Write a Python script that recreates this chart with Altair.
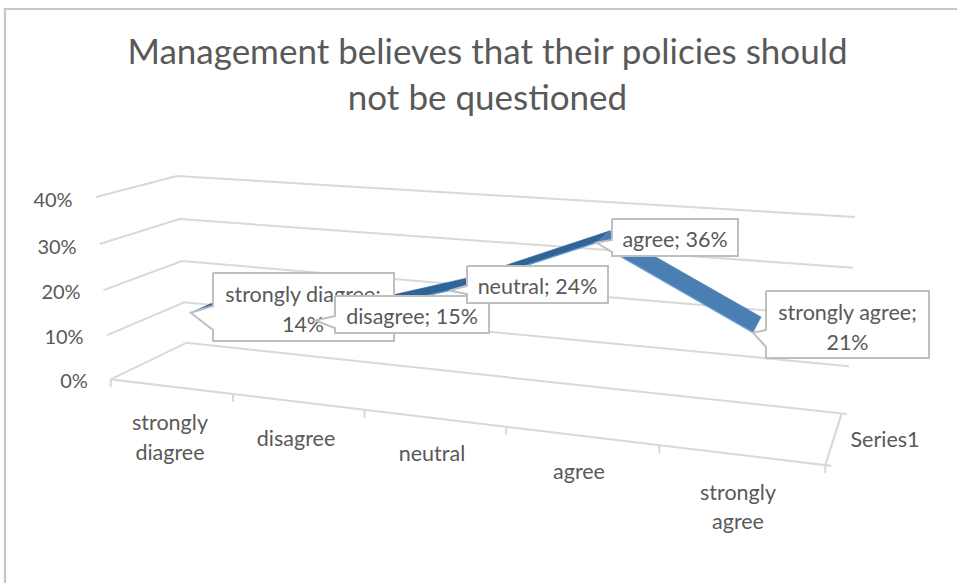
import altair as alt
import pandas as pd

# Survey responses
categories = ["strongly diagree", "disagree", "neutral", "agree", "strongly agree"]
values = [14, 15, 24, 36, 21]
grid_values = [0, 10, 20, 30, 40]
title_lines = ["Management believes that their policies should", "not be questioned"]
series_name = "Series1"

W, H = 957, 583
FONT = "Lato"
GREY = "#d9d9d9"
TEXT = "#595959"
BOX = "#bfbfbf"

# Corners of the 3D plot box on the page: (front/back, left/right) at 0% and at 40%
FLOOR = {"fl": (110.7, 379.3), "fr": (831, 465.8), "bl": (186.7, 342.7), "br": (847, 414)}
TOP = {"fl": (96, 197), "fr": (845, 250), "bl": (177, 176), "br": (855, 217)}
VMAX = 40
PERSPECTIVE = 1.21   # foreshortening along the category axis
RISE = 1.043         # foreshortening along the value axis
AXIS_END = 0.992     # the last category tick sits just short of the box corner
RIBBON_DEPTH = (1 / 3, 0.72)


def lerp(a, b, t):
    return (a[0] + (b[0] - a[0]) * t, a[1] + (b[1] - a[1]) * t)


def warp(u):
    return AXIS_END * u / (u + PERSPECTIVE * (1 - u))


def project(u, depth, value):
    """Page position of category fraction u (already warped), depth 0-1, value in %."""
    s = value / VMAX
    t = s / (s + RISE * (1 - s))
    front = lerp(lerp(FLOOR["fl"], FLOOR["fr"], u), lerp(TOP["fl"], TOP["fr"], u), t)
    back = lerp(lerp(FLOOR["bl"], FLOOR["br"], u), lerp(TOP["bl"], TOP["br"], u), t)
    return lerp(front, back, depth)


def centre(i):
    return warp((i + 0.5) / len(categories))


X = alt.X("x:Q", scale=alt.Scale(domain=[0, W], nice=False, zero=False), axis=None)
Y = alt.Y("y:Q", scale=alt.Scale(domain=[H, 0], nice=False, zero=False), axis=None)


def path(points, color, width=1.5, fill=None):
    df = pd.DataFrame([{"x": p[0], "y": p[1], "i": n} for n, p in enumerate(points)])
    kw = {"stroke": color, "strokeWidth": width, "interpolate": "linear"}
    if fill:
        kw["fill"] = fill
    return alt.Chart(df).mark_line(**kw).encode(x=X, y=Y, order="i:Q")


def label(rows, size=21.5):
    df = pd.DataFrame(rows, columns=["x", "y", "t"])
    return alt.Chart(df).mark_text(font=FONT, fontSize=size, color=TEXT, align="center",
                                   baseline="middle").encode(x=X, y=Y, text="t:N")


layers = []

# Chart frame
layers.append(path([(5, H), (5, 9), (W, 9)], "#c6c6c6", 2.2))

# Gridlines on the side wall and the back wall
for g in grid_values:
    layers.append(path([project(0, 0, g), project(0, 1, g), project(1, 1, g)], GREY, 2))

# Category axis with its ticks, and the depth axis
layers.append(path([project(0, 0, 0), project(1, 0, 0)], GREY, 2.2))
for k in range(len(categories) + 1):
    base = project(warp(k / len(categories)), 0, 0)
    layers.append(path([base, (base[0], base[1] + 8)], GREY, 2))
layers.append(path([project(AXIS_END, 0, 0), project(AXIS_END, 1, 0)], GREY, 2.2))

# The series as a 3D ribbon
d0, d1 = RIBBON_DEPTH
for i in range(len(values) - 1):
    a, b = values[i], values[i + 1]
    ua, ub = centre(i), centre(i + 1)
    quad = [project(ua, d0, a), project(ub, d0, b), project(ub, d1, b), project(ua, d1, a), project(ua, d0, a)]
    face = "#2f6497" if b > a else "#4a7fb4"
    layers.append(path(quad, face, 0.5, fill=face))
    layers.append(path([project(ua, d0, a), project(ub, d0, b)], "#6aa2dc", 1.2))

# Data callouts: box edges on the page, pointer tip on the front corner of the ribbon
boxes = [
    (213, 273, 394, 341, 306, 330),
    (335, 296, 489, 333, 316, 328),
    (467, 266, 608, 303, 286, 294),
    (612, 219, 738, 256, 240, 252),
    (766, 291, 929, 358, 330, 347),
]
lines = [
    [(303, 296), (303, 326)],
    [(412, 318)],
    [(537.5, 288)],
    [(675, 241)],
    [(847.5, 314), (847.5, 344)],
]
wrapped = {0: 1, 4: 1}
for i, (left, top, right, bottom, t0, t1) in enumerate(boxes):
    tip = project(centre(i), d0, values[i])
    poly = [(left, top), (right, top), (right, bottom), (left, bottom), (left, t1), tip, (left, t0), (left, top)]
    layers.append(path(poly, BOX, 2, fill="white"))
    text = f"{categories[i]}; {values[i]}%"
    if i in wrapped:
        head, tail = text.rsplit(" ", 1)
        parts = [head, tail]
    else:
        parts = [text]
    layers.append(label([(p[0], p[1], s) for p, s in zip(lines[i], parts)]))

# Value axis labels
value_pos = [(74, 382), (64, 338), (61, 293), (57, 248), (53, 201)]
layers.append(label([(p[0], p[1], f"{g}%") for p, g in zip(value_pos, grid_values)], size=20))

# Category labels and the series label
layers.append(label([
    (170, 424, "strongly"), (170, 454, "diagree"),
    (296, 440, categories[1]),
    (432, 455, categories[2]),
    (579, 473, categories[3]),
    (738, 494, "strongly"), (738, 523, "agree"),
    (885, 441, series_name),
]))

chart = alt.layer(*layers).properties(
    width=W, height=H, padding=0,
    autosize=alt.AutoSizeParams(type="none"),
    background="white",
    title=alt.TitleParams(text=title_lines, font=FONT, fontSize=35, fontWeight="normal",
                          color=TEXT, anchor="middle", baseline="top", offset=0,
                          dx=9, dy=117, lineHeight=46),
).configure_view(stroke=None)

chart.save("out.html", embed_options={"renderer": "svg", "actions": False})
